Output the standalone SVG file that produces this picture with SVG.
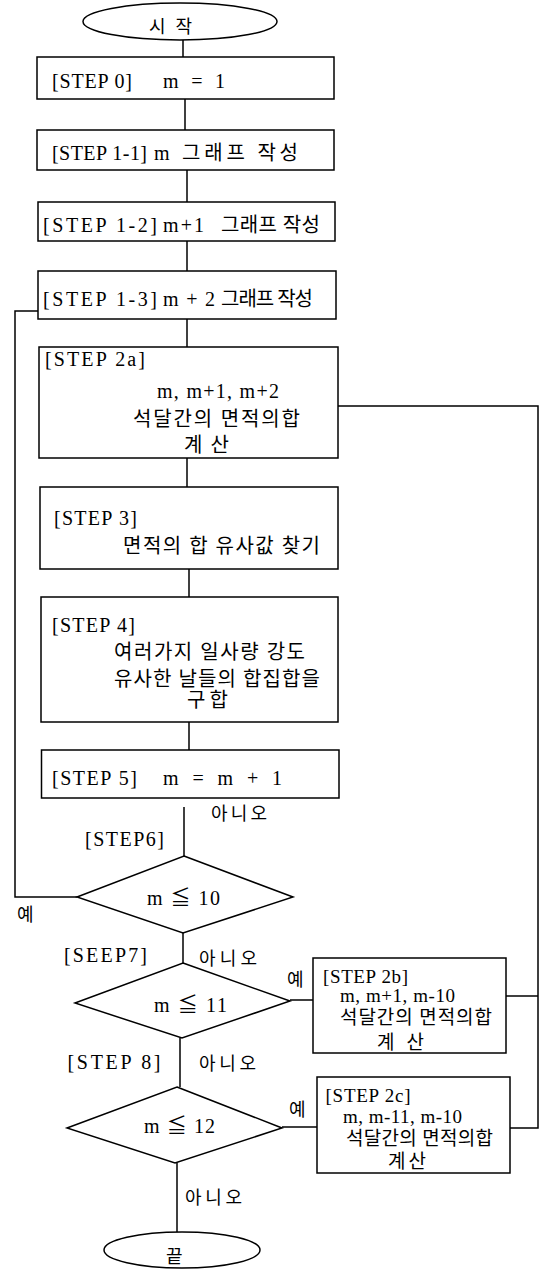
<svg xmlns="http://www.w3.org/2000/svg" width="543" height="1269" viewBox="0 0 543 1269">
<style>
.s{fill:#fff;stroke:#000;stroke-width:1.5}
.c{fill:none;stroke:#000;stroke-width:1.5}
text{font-family:"Liberation Serif","Noto Sans CJK KR",serif;font-size:20px;fill:#000}
.k{font-size:18px}
.sm{font-size:19px}
</style>
<rect width="543" height="1269" fill="#fff"/>
<g id="connectors">
<line class="c" x1="183" y1="40" x2="183" y2="57"/>
<line class="c" x1="185" y1="99" x2="185" y2="130"/>
<line class="c" x1="187" y1="170" x2="187" y2="202"/>
<line class="c" x1="187" y1="241" x2="187" y2="271"/>
<line class="c" x1="187" y1="319" x2="187" y2="347"/>
<line class="c" x1="187" y1="458" x2="187" y2="487"/>
<line class="c" x1="189" y1="569" x2="189" y2="597"/>
<line class="c" x1="189" y1="722" x2="189" y2="750"/>
<line class="c" x1="184" y1="807" x2="184" y2="856"/>
<line class="c" x1="183" y1="933" x2="183" y2="963"/>
<line class="c" x1="180" y1="1038" x2="180" y2="1087"/>
<line class="c" x1="177" y1="1163" x2="177" y2="1232"/>
<polyline class="c" points="77,897 15,897 15,311 38,311"/>
<line class="c" x1="290" y1="1000" x2="313" y2="1000"/>
<line class="c" x1="282" y1="1127" x2="317" y2="1127"/>
<polyline class="c" points="338,406 538,406 538,1128 510,1128"/>
<line class="c" x1="506" y1="996" x2="538" y2="996"/>
</g>
<g id="start">
<ellipse class="s" cx="180" cy="21.5" rx="97" ry="18.5"/>
<text x="149" y="33" textLength="43" lengthAdjust="spacing" class="k">시 작</text>
</g>
<g id="step0">
<rect class="s" x="37" y="57" width="297" height="42"/>
<text x="52" y="88" textLength="80" lengthAdjust="spacing">[STEP 0]</text>
<text x="163" y="88" textLength="62" lengthAdjust="spacing">m = 1</text>
</g>
<g id="step1-1">
<rect class="s" x="37" y="130" width="297" height="40"/>
<text x="52" y="160" textLength="95" lengthAdjust="spacing">[STEP 1-1]</text>
<text x="154" y="160" textLength="144" lengthAdjust="spacing">m 그래프 작성</text>
</g>
<g id="step1-2">
<rect class="s" x="38" y="202" width="297" height="39"/>
<text x="43" y="232" textLength="114" lengthAdjust="spacing">[STEP 1-2]</text>
<text x="163" y="232" textLength="41" lengthAdjust="spacing">m+1</text>
<text x="221" y="232" textLength="99" lengthAdjust="spacing">그래프 작성</text>
</g>
<g id="step1-3">
<rect class="s" x="38" y="271" width="298" height="48"/>
<text x="43" y="306" textLength="114" lengthAdjust="spacing">[STEP 1-3]</text>
<text x="163" y="306" textLength="52" lengthAdjust="spacing">m + 2</text>
<text x="221" y="306" textLength="92" lengthAdjust="spacing">그래프 작성</text>
</g>
<g id="step2a">
<rect class="s" x="39" y="347" width="299" height="111"/>
<text x="45" y="366" textLength="100" lengthAdjust="spacing">[STEP 2a]</text>
<text x="157" y="398" textLength="122" lengthAdjust="spacing">m, m+1, m+2</text>
<text x="133" y="426" textLength="167" lengthAdjust="spacing">석달간의 면적의합</text>
<text x="184" y="452" textLength="45" lengthAdjust="spacing">계 산</text>
</g>
<g id="step3">
<rect class="s" x="40" y="487" width="298" height="82"/>
<text x="54" y="525" textLength="83" lengthAdjust="spacing">[STEP 3]</text>
<text x="123" y="553" textLength="197" lengthAdjust="spacing">면적의 합 유사값 찾기</text>
</g>
<g id="step4">
<rect class="s" x="41" y="597" width="297" height="125"/>
<text x="52" y="632" textLength="83" lengthAdjust="spacing">[STEP 4]</text>
<text x="114" y="659" textLength="191" lengthAdjust="spacing">여러가지 일사량 강도</text>
<text x="114" y="686" textLength="206" lengthAdjust="spacing">유사한 날들의 합집합을</text>
<text x="187" y="707" textLength="41" lengthAdjust="spacing">구 합</text>
</g>
<g id="step5">
<rect class="s" x="41.5" y="750" width="297.5" height="48"/>
<text x="52" y="785" textLength="85" lengthAdjust="spacing">[STEP 5]</text>
<text x="163" y="785" textLength="119" lengthAdjust="spacing">m = m + 1</text>
</g>
<g id="step6">
<polygon class="s" points="184,856 293,897 183,933 77,897"/>
<text x="85" y="846" textLength="79" lengthAdjust="spacing">[STEP6]</text>
<text x="147" y="905" textLength="73" lengthAdjust="spacing">m ≦ 10</text>
</g>
<g id="step7">
<polygon class="s" points="183,963 290,1001 182,1038 75,1003"/>
<text x="64" y="962" textLength="83" lengthAdjust="spacing">[SEEP7]</text>
<text x="154" y="1012" textLength="73" lengthAdjust="spacing">m ≦ 11</text>
</g>
<g id="step8">
<polygon class="s" points="177,1087 282,1128 175,1163 67,1128"/>
<text x="67.5" y="1069" textLength="93" lengthAdjust="spacing">[STEP 8]</text>
<text x="144" y="1133" textLength="71" lengthAdjust="spacing">m ≦ 12</text>
</g>
<g id="step2b">
<rect class="s" x="313" y="958" width="193" height="95"/>
<text x="323" y="983" textLength="85" lengthAdjust="spacing" class="sm">[STEP 2b]</text>
<text x="340" y="1002" textLength="115" lengthAdjust="spacing" class="sm">m, m+1, m-10</text>
<text x="340" y="1024" textLength="152" lengthAdjust="spacing" class="sm">석달간의 면적의합</text>
<text x="377" y="1049" textLength="47" lengthAdjust="spacing" class="sm">계 산</text>
</g>
<g id="step2c">
<rect class="s" x="317" y="1077" width="193" height="96"/>
<text x="325.5" y="1102" textLength="85" lengthAdjust="spacing" class="sm">[STEP 2c]</text>
<text x="343" y="1123" textLength="119" lengthAdjust="spacing" class="sm">m, m-11, m-10</text>
<text x="346" y="1145" textLength="147" lengthAdjust="spacing" class="sm">석달간의 면적의합</text>
<text x="388" y="1168" textLength="38" lengthAdjust="spacing" class="sm">계 산</text>
</g>
<g id="end">
<ellipse class="s" cx="182" cy="1250" rx="78" ry="18"/>
<text x="166" y="1263" class="k">끝</text>
</g>
<g id="labels">
<text x="211" y="820" textLength="56" lengthAdjust="spacing" class="k">아니오</text>
<text x="17" y="921" class="k">예</text>
<text x="199" y="965" textLength="58" lengthAdjust="spacing" class="k">아니오</text>
<text x="287" y="986" class="k">예</text>
<text x="199" y="1070" textLength="57" lengthAdjust="spacing" class="k">아니오</text>
<text x="289" y="1116" class="k">예</text>
<text x="185" y="1204" textLength="57" lengthAdjust="spacing" class="k">아니오</text>
</g>
</svg>
